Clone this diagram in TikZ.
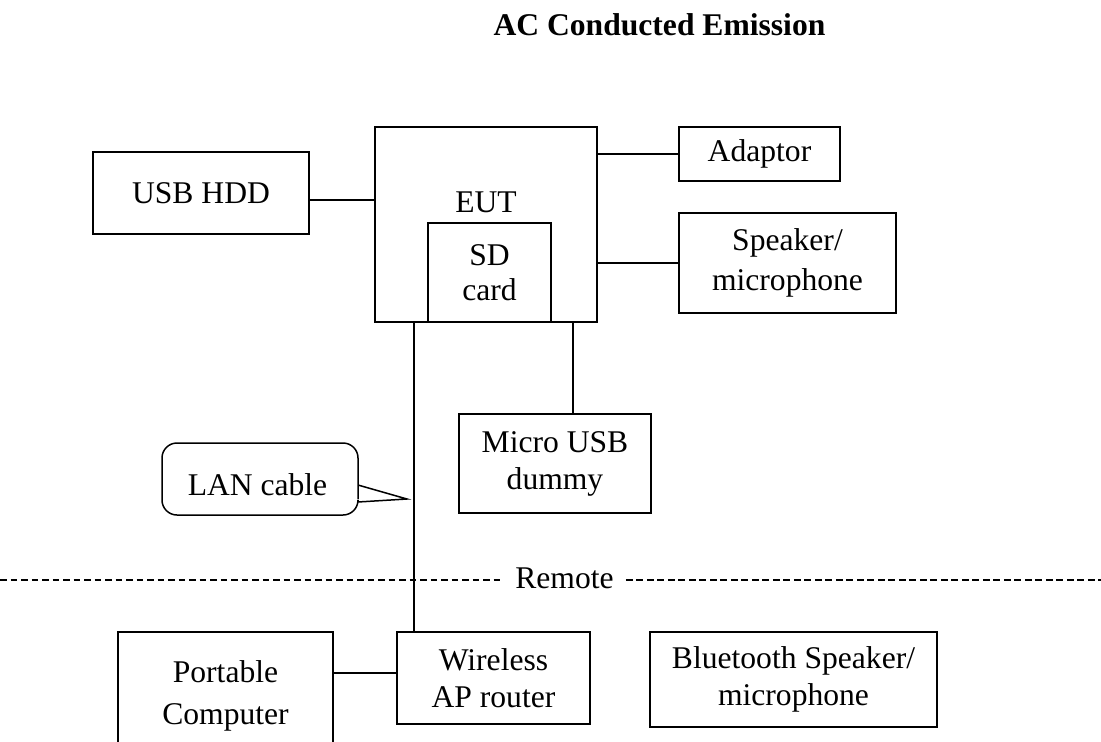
\documentclass[tikz,border=0pt]{standalone}
\usepackage{fontspec}
\setmainfont{Liberation Serif}
\begin{document}
\begin{tikzpicture}[x=1pt,y=-1pt,
  every node/.style={font=\fontsize{31.6pt}{37pt}\selectfont},
  box/.style={draw,line width=1.5pt,inner sep=0pt,align=center},
  wire/.style={line width=1.5pt},
  sepline/.style={line width=2pt,dash pattern=on 6.8pt off 3.7pt}]
\fill[white] (0,0) rectangle (1101,742);
\useasboundingbox (0,0) rectangle (1101,742);
% title
\node[font=\bfseries\fontsize{31.6pt}{37pt}\selectfont,anchor=base] (title) at (659.5,35) {AC Conducted Emission};
% boxes
\node[box,minimum width=216pt,minimum height=82pt] (usbhdd) at (201,193) {USB HDD};
\node[box,minimum width=222pt,minimum height=195pt] (eut) at (486,224.5) {};
\node[anchor=base] (eutlabel) at (486,212) {EUT};
\node[box,minimum width=123pt,minimum height=99pt] (sd) at (489.5,272.5) {SD\\[-2pt]card};
\node[box,minimum width=161pt,minimum height=54pt] (adaptor) at (759.5,154) {Adaptor};
\node[box,minimum width=217pt,minimum height=100pt] (speaker) at (787.5,263) {Speaker/\\[3pt]microphone};
\node[box,minimum width=192pt,minimum height=99pt] (microusb) at (555,463.5) {Micro USB\\dummy};
\node[box,minimum width=193pt,minimum height=92pt] (wireless) at (493.5,678) {Wireless\\AP router};
\node[box,minimum width=287pt,minimum height=95pt] (bluetooth) at (793.5,679.5) {Bluetooth Speaker/\\microphone};
\node[box,minimum width=215pt,minimum height=128pt] (portable) at (225.5,696) {Portable\\[5pt]Computer};
% callout
\draw[wire] (260,443) [rounded corners=15pt] -- (358,443) -- (358,484) [sharp corners] -- (358,485) -- (407,499) -- (358,502) [rounded corners=15pt] -- (358,515) -- (162,515) -- (162,443) -- cycle;
\node (lan) at (257.5,485) {LAN cable};
% connectors
\coordinate (yhdd) at (0,200);
\coordinate (lanx) at (414,0);
\coordinate (musbx) at (573,0);
\coordinate (ypc) at (0,673);
\draw[wire] (usbhdd.east |- yhdd) -- (eut.west |- yhdd);
\draw[wire] (eut.east |- adaptor.west) -- (adaptor.west);
\draw[wire] (eut.east |- speaker.west) -- (speaker.west);
\draw[wire] (eut.south -| lanx) -- (wireless.north -| lanx);
\draw[wire] (eut.south -| musbx) -- (microusb.north -| musbx);
\draw[wire] (portable.east |- ypc) -- (wireless.west |- ypc);
% remote separator
\node[anchor=base,inner xsep=12pt] (remote) at (564.5,588) {Remote};
\coordinate (sepl) at (0,580);
\coordinate (sepr) at (1101,580);
\draw[sepline] (sepl) -- (sepl -| remote.west);
\draw[sepline] (remote.east |- sepr) -- (sepr);
\end{tikzpicture}
\end{document}
